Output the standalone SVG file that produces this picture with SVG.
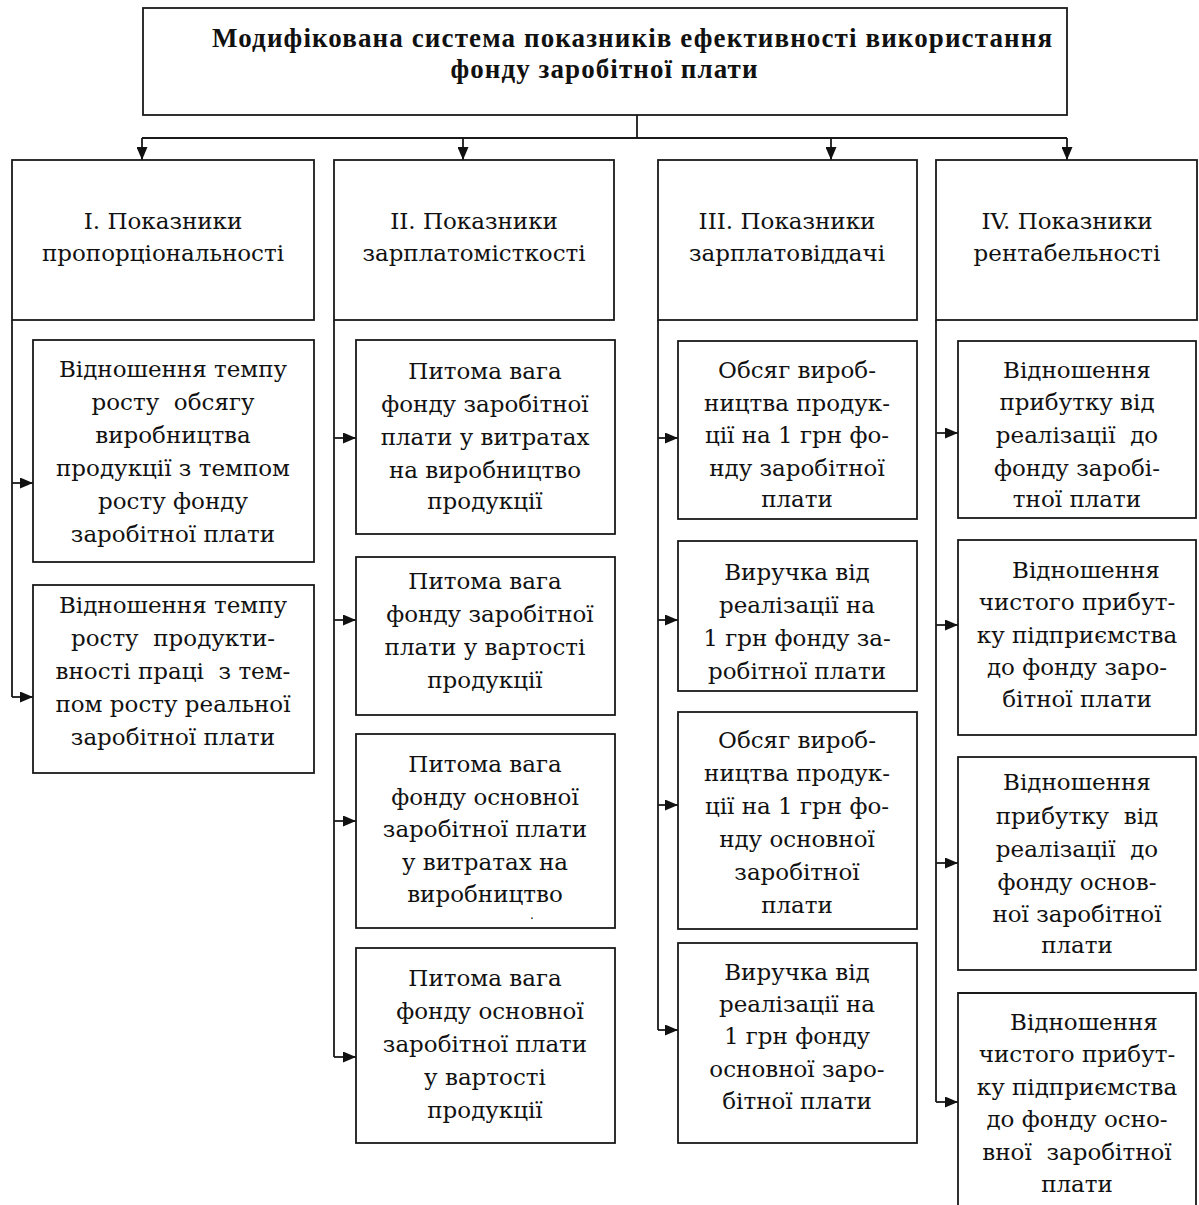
<svg xmlns="http://www.w3.org/2000/svg" width="1199" height="1205" viewBox="0 0 1199 1205">
<style>
.box{fill:#fff;stroke:#1a1a1a;stroke-width:1.8}
.ln{fill:none;stroke:#1a1a1a;stroke-width:1.8}
.t{font-family:"DejaVu Serif",serif;font-size:23px;text-anchor:middle;fill:#111;white-space:pre}
.title{font-family:"Liberation Serif",serif;font-weight:bold;font-size:27px;text-anchor:middle;fill:#111}
</style>
<defs>
<marker id="ah" markerWidth="13" markerHeight="11" refX="13" refY="5.5" orient="auto" markerUnits="userSpaceOnUse"><path d="M0,0 L13,5.5 L0,11 z" fill="#111"/></marker>
</defs>
<rect width="1199" height="1205" fill="#fff"/>

<g id="connectors">
<path class="ln" d="M637,115 V138 M142,138 H1067"/>
<path class="ln" marker-end="url(#ah)" d="M142,138 V160"/>
<path class="ln" marker-end="url(#ah)" d="M463,138 V160"/>
<path class="ln" marker-end="url(#ah)" d="M831,138 V160"/>
<path class="ln" marker-end="url(#ah)" d="M1067,138 V160"/>
<path class="ln" d="M12,320 V697 M334,320 V1057 M658,320 V1030 M936,320 V1102"/>
<path class="ln" marker-end="url(#ah)" d="M12,483 H33"/>
<path class="ln" marker-end="url(#ah)" d="M12,697 H33"/>
<path class="ln" marker-end="url(#ah)" d="M334,438 H356"/>
<path class="ln" marker-end="url(#ah)" d="M334,620 H356"/>
<path class="ln" marker-end="url(#ah)" d="M334,821 H356"/>
<path class="ln" marker-end="url(#ah)" d="M334,1057 H356"/>
<path class="ln" marker-end="url(#ah)" d="M658,438 H678"/>
<path class="ln" marker-end="url(#ah)" d="M658,620 H678"/>
<path class="ln" marker-end="url(#ah)" d="M658,805 H678"/>
<path class="ln" marker-end="url(#ah)" d="M658,1030 H678"/>
<path class="ln" marker-end="url(#ah)" d="M936,433 H958"/>
<path class="ln" marker-end="url(#ah)" d="M936,625 H958"/>
<path class="ln" marker-end="url(#ah)" d="M936,863 H958"/>
<path class="ln" marker-end="url(#ah)" d="M936,1102 H958"/>
</g>

<g id="top">
<rect class="box" x="143" y="8" width="924" height="107"/>
<text class="title"><tspan x="632" y="47" textLength="840" lengthAdjust="spacing">Модифікована система показників ефективності використання</tspan><tspan x="604" y="78" textLength="307" lengthAdjust="spacing">фонду заробітної плати</tspan></text>
</g>

<g id="h1">
<rect class="box" x="12" y="160" width="302" height="160"/>
<text class="t"><tspan x="163" y="229">І. Показники</tspan><tspan x="163" y="261">пропорціональності</tspan></text>
</g>
<g id="h2">
<rect class="box" x="334" y="160" width="280" height="160"/>
<text class="t"><tspan x="474" y="229">ІІ. Показники</tspan><tspan x="474" y="261">зарплатомісткості</tspan></text>
</g>
<g id="h3">
<rect class="box" x="658" y="160" width="259" height="160"/>
<text class="t"><tspan x="787" y="229">ІІІ. Показники</tspan><tspan x="787" y="261">зарплатовіддачі</tspan></text>
</g>
<g id="h4">
<rect class="box" x="936" y="160" width="261" height="160"/>
<text class="t"><tspan x="1067" y="229">IV. Показники</tspan><tspan x="1067" y="261">рентабельності</tspan></text>
</g>

<g id="b1-1">
<rect class="box" x="33" y="340" width="281" height="222"/>
<text class="t"><tspan x="173" y="377">Відношення темпу</tspan><tspan x="173" y="410">росту  обсягу</tspan><tspan x="173" y="443">виробництва</tspan><tspan x="173" y="476">продукції з темпом</tspan><tspan x="173" y="509">росту фонду</tspan><tspan x="173" y="542">заробітної плати</tspan></text>
</g>
<g id="b1-2">
<rect class="box" x="33" y="585" width="281" height="188"/>
<text class="t"><tspan x="173" y="613">Відношення темпу</tspan><tspan x="173" y="646">росту  продукти-</tspan><tspan x="173" y="679">вності праці  з тем-</tspan><tspan x="173" y="712">пом росту реальної</tspan><tspan x="173" y="745">заробітної плати</tspan></text>
</g>

<g id="b2-1">
<rect class="box" x="356" y="340" width="259" height="194"/>
<text class="t"><tspan x="485" y="379">Питома вага</tspan><tspan x="485" y="412">фонду заробітної</tspan><tspan x="485" y="445">плати у витратах</tspan><tspan x="485" y="478">на виробництво</tspan><tspan x="485" y="509">продукції</tspan></text>
</g>
<g id="b2-2">
<rect class="box" x="356" y="557" width="259" height="158"/>
<text class="t"><tspan x="485" y="589">Питома вага</tspan><tspan x="490" y="622">фонду заробітної</tspan><tspan x="485" y="655">плати у вартості</tspan><tspan x="485" y="688">продукції</tspan></text>
</g>
<g id="b2-3">
<rect class="box" x="356" y="734" width="259" height="194"/>
<text class="t"><tspan x="485" y="772">Питома вага</tspan><tspan x="485" y="805">фонду основної</tspan><tspan x="485" y="837">заробітної плати</tspan><tspan x="485" y="870">у витратах на</tspan><tspan x="485" y="902">виробництво</tspan></text>
<text class="t" style="font-size:12px" x="532" y="919">.</text>
</g>
<g id="b2-4">
<rect class="box" x="356" y="948" width="259" height="195"/>
<text class="t"><tspan x="485" y="986">Питома вага</tspan><tspan x="490" y="1019">фонду основної</tspan><tspan x="485" y="1052">заробітної плати</tspan><tspan x="485" y="1085">у вартості</tspan><tspan x="485" y="1118">продукції</tspan></text>
</g>

<g id="b3-1">
<rect class="box" x="678" y="341" width="239" height="178"/>
<text class="t"><tspan x="797" y="378">Обсяг вироб-</tspan><tspan x="797" y="411">ництва продук-</tspan><tspan x="797" y="443">ції на 1 грн фо-</tspan><tspan x="797" y="476">нду заробітної</tspan><tspan x="797" y="507">плати</tspan></text>
</g>
<g id="b3-2">
<rect class="box" x="678" y="541" width="239" height="150"/>
<text class="t"><tspan x="797" y="580">Виручка від</tspan><tspan x="797" y="613">реалізації на</tspan><tspan x="797" y="646">1 грн фонду за-</tspan><tspan x="797" y="679">робітної плати</tspan></text>
</g>
<g id="b3-3">
<rect class="box" x="678" y="712" width="239" height="217"/>
<text class="t"><tspan x="797" y="748">Обсяг вироб-</tspan><tspan x="797" y="781">ництва продук-</tspan><tspan x="797" y="814">ції на 1 грн фо-</tspan><tspan x="797" y="847">нду основної</tspan><tspan x="797" y="880">заробітної</tspan><tspan x="797" y="913">плати</tspan></text>
</g>
<g id="b3-4">
<rect class="box" x="678" y="943" width="239" height="200"/>
<text class="t"><tspan x="797" y="980">Виручка від</tspan><tspan x="797" y="1012">реалізації на</tspan><tspan x="797" y="1044">1 грн фонду</tspan><tspan x="797" y="1077">основної заро-</tspan><tspan x="797" y="1109">бітної плати</tspan></text>
</g>

<g id="b4-1">
<rect class="box" x="958" y="341" width="238" height="177"/>
<text class="t"><tspan x="1077" y="378">Відношення</tspan><tspan x="1077" y="410">прибутку від</tspan><tspan x="1077" y="443">реалізації  до</tspan><tspan x="1077" y="476">фонду заробі-</tspan><tspan x="1077" y="507">тної плати</tspan></text>
</g>
<g id="b4-2">
<rect class="box" x="958" y="540" width="238" height="195"/>
<text class="t"><tspan x="1086" y="578">Відношення</tspan><tspan x="1077" y="610">чистого прибут-</tspan><tspan x="1077" y="643">ку підприємства</tspan><tspan x="1077" y="675">до фонду заро-</tspan><tspan x="1077" y="707">бітної плати</tspan></text>
</g>
<g id="b4-3">
<rect class="box" x="958" y="757" width="238" height="213"/>
<text class="t"><tspan x="1077" y="790">Відношення</tspan><tspan x="1077" y="824">прибутку  від</tspan><tspan x="1077" y="857">реалізації  до</tspan><tspan x="1077" y="890">фонду основ-</tspan><tspan x="1077" y="922">ної заробітної</tspan><tspan x="1077" y="953">плати</tspan></text>
</g>
<g id="b4-4">
<path class="box" d="M958,1210 V993 H1196 V1210"/>
<text class="t"><tspan x="1084" y="1030">Відношення</tspan><tspan x="1077" y="1062">чистого прибут-</tspan><tspan x="1077" y="1095">ку підприємства</tspan><tspan x="1077" y="1127">до фонду осно-</tspan><tspan x="1077" y="1160">вної  заробітної</tspan><tspan x="1077" y="1192">плати</tspan></text>
</g>
</svg>
